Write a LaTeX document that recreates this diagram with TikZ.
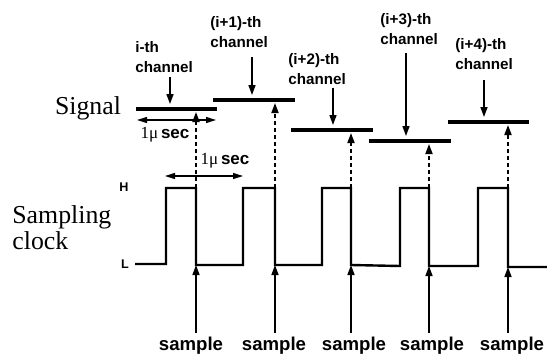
\documentclass[tikz,border=0pt]{standalone}
\usepackage{fontspec}
\setmainfont{Liberation Serif}
\setsansfont{Liberation Sans}
\usetikzlibrary{arrows.meta}

\tikzset{
  sigbar/.style={line width=2pt},
  clockline/.style={line width=1.2pt, line join=miter},
  pointer/.style={line width=0.75pt, -{Triangle[length=5pt,width=3.5pt]}},
  probe/.style={line width=0.9pt, dash pattern=on 2.2pt off 1.3pt, -{Triangle[length=5pt,width=3.5pt]}},
  period/.style={line width=0.75pt, {Triangle[length=5pt,width=3pt]}-{Triangle[length=5pt,width=3pt]}},
  chname/.style={font=\sffamily\bfseries\fontsize{7.6}{10}\selectfont, align=left, anchor=north west, inner sep=0pt},
  smp/.style={font=\sffamily\bfseries\fontsize{9.3}{11}\selectfont, inner sep=0pt},
  hl/.style={font=\sffamily\bfseries\fontsize{6.3}{7}\selectfont, inner sep=0pt},
  sidelabel/.style={font=\fontsize{12.9}{13}\selectfont, align=left, inner sep=0pt},
  usec/.style={font=\fontsize{8.5}{9}\selectfont, inner sep=0pt}
}

\begin{document}
\begin{tikzpicture}[x=0.5pt,y=-0.5pt]
\useasboundingbox (0,0) rectangle (547,359);

% titles on the left
\node[sidelabel] (sig) at (88,108) {Signal};
\node[sidelabel, anchor=north west] (clk) at (12,205) {Sampling\\clock};
\node[hl] (hi) at (124,187) {H};
\node[hl] (lo) at (125,264) {L};

% signal levels of the channels
\coordinate (b1w) at (136,109); \coordinate (b1e) at (217,109);
\coordinate (b2w) at (213,100); \coordinate (b2e) at (295,100);
\coordinate (b3w) at (291,130); \coordinate (b3e) at (373,130);
\coordinate (b4w) at (369,141); \coordinate (b4e) at (451,141);
\coordinate (b5w) at (448,122); \coordinate (b5e) at (529,122);
\draw[sigbar] (b1w) -- (b1e);
\draw[sigbar] (b2w) -- (b2e);
\draw[sigbar] (b3w) -- (b3e);
\draw[sigbar] (b4w) -- (b4e);
\draw[sigbar] (b5w) -- (b5e);

% channel names
\node[chname] (ch1) at (135,41) {i-th\\channel};
\node[chname] (ch2) at (210,16) {(i+1)-th\\channel};
\node[chname] (ch3) at (288,53) {(i+2)-th\\channel};
\node[chname] (ch4) at (380,13) {(i+3)-th\\channel};
\node[chname] (ch5) at (455,38) {(i+4)-th\\channel};

\coordinate (a1) at (170,77);  \coordinate (e1) at (170,104);
\coordinate (a2) at (252,57);  \coordinate (e2) at (252,95);
\coordinate (a3) at (333,88);  \coordinate (e3) at (333,125);
\coordinate (a4) at (406,53);  \coordinate (e4) at (406,136);
\coordinate (a5) at (484,80);  \coordinate (e5) at (484,117);
\draw[pointer] (a1) -- (e1);
\draw[pointer] (a2) -- (e2);
\draw[pointer] (a3) -- (e3);
\draw[pointer] (a4) -- (e4);
\draw[pointer] (a5) -- (e5);

% sampling clock
\coordinate (f1) at (196,188); \coordinate (g1) at (196,265);
\coordinate (f2) at (275,188); \coordinate (g2) at (275,265);
\coordinate (f3) at (351,188); \coordinate (g3) at (351,265);
\coordinate (f4) at (429,188); \coordinate (g4) at (429,266);
\coordinate (f5) at (508,188); \coordinate (g5) at (508,267);
\draw[clockline] (135,264) -- (166,264) -- (166,188) -- (f1) -- (g1)
  -- (243,265) -- (243,188) -- (f2) -- (g2)
  -- (322,265) -- (322,188) -- (f3) -- (g3)
  -- (400,266) -- (400,188) -- (f4) -- (g4)
  -- (478,266) -- (478,188) -- (f5) -- (g5) -- (547,267);

% sampled values
\draw[probe] (f1) -- (196,112);
\draw[probe] (f2) -- (275,103);
\draw[probe] (f3) -- (351,133);
\draw[probe] (f4) -- (429,144);
\draw[probe] (f5) -- (508,125);

% sample instants
\node[smp] (s1) at (191,346) {sample};
\node[smp] (s2) at (274,346) {sample};
\node[smp] (s3) at (354,346) {sample};
\node[smp] (s4) at (432,346) {sample};
\node[smp] (s5) at (512,346) {sample};
\draw[pointer] (g1 |- 0,333) -- (g1);
\draw[pointer] (g2 |- 0,333) -- (g2);
\draw[pointer] (g3 |- 0,333) -- (g3);
\draw[pointer] (g4 |- 0,333) -- (g4);
\draw[pointer] (g5 |- 0,333) -- (g5);

% 1 usec spans
\coordinate (p1w) at (137,120); \coordinate (p1e) at (216,120);
\coordinate (p2w) at (165,176); \coordinate (p2e) at (243,176);
\draw[period] (p1w) -- (p1e);
\draw[period] (p2w) -- (p2e);
\node[usec] (u1) at (165,135) {1μ\,{\sffamily\bfseries sec}};
\node[usec] (u2) at (225,161) {1μ\,{\sffamily\bfseries sec}};
\end{tikzpicture}
\end{document}
